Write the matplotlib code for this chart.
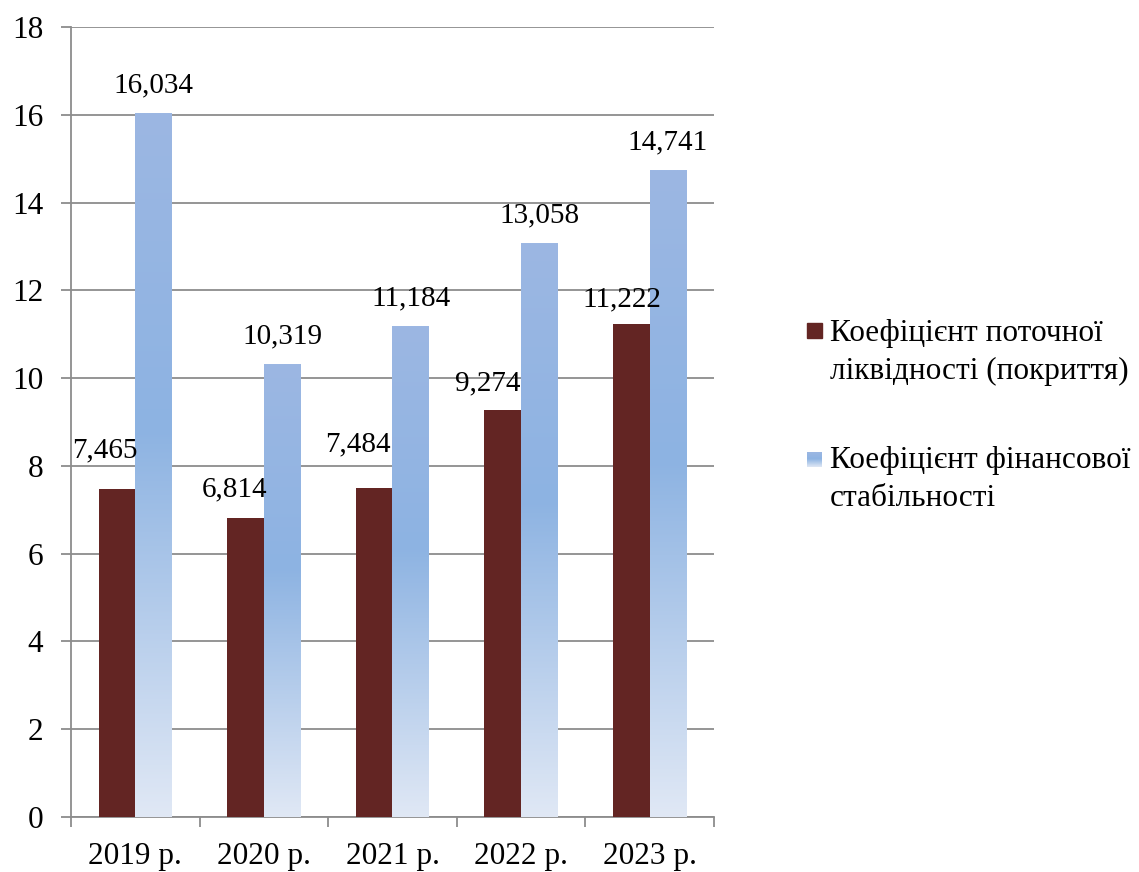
import numpy as np
import matplotlib
matplotlib.use("Agg")
import matplotlib.pyplot as plt
from matplotlib.colors import LinearSegmentedColormap
from matplotlib.patches import Rectangle

plt.rcParams['font.family'] = ['Liberation Serif', 'DejaVu Serif']

# дані
years = ['2019 р.', '2020 р.', '2021 р.', '2022 р.', '2023 р.']
liquidity = [7.465, 6.814, 7.484, 9.274, 11.222]
stability = [16.034, 10.319, 11.184, 13.058, 14.741]
series_names = ['Коефіцієнт поточної\nліквідності (покриття)',
                'Коефіцієнт фінансової\nстабільності']

# зсуви підписів (пікселі) для темних стовпців
liq_label_shift = [(-12, 39), (-11, 29), (-16, 44), (-15, 27), (-9, 25)]

FS = 22.5
FS_LBL = 21
dark = '#632523'
grid_c = '#8c8c8c'
blue_grad = LinearSegmentedColormap.from_list(
    'blue_grad', [(0.0, '#E0E8F5'), (0.55, '#8DB3E2'), (1.0, '#9CB7E3')])


def fmt(v):
    return f'{v:.3f}'.replace('.', ',')


fig = plt.figure(figsize=(11.39, 8.72), dpi=100)
ax = fig.add_axes([0.0623, 0.0631, 0.5645, 0.906])

x = np.arange(len(years))
w = 0.2857

ax.bar(x - w / 2, liquidity, width=w, color=dark, zorder=3)
grad = np.linspace(0, 1, 256).reshape(-1, 1)
for xi, v in zip(x, stability):
    ax.imshow(grad, cmap=blue_grad, origin='lower', aspect='auto',
              extent=(xi, xi + w, 0, v), zorder=3, interpolation='bilinear')

for xi, v, (dx, dy) in zip(x, liquidity, liq_label_shift):
    ax.annotate(fmt(v), (xi - w / 2, v), xytext=(dx, dy),
                textcoords='offset pixels', ha='center', va='center',
                fontsize=FS_LBL, zorder=5)
for xi, v in zip(x, stability):
    ax.annotate(fmt(v), (xi + w / 2, v), xytext=(0, 28),
                textcoords='offset pixels', ha='center', va='center',
                fontsize=FS_LBL, zorder=5)

ax.set_xlim(-0.5, len(years) - 0.5)
ax.set_ylim(0, 18)
ax.set_yticks(np.arange(0, 19, 2))
ax.set_xticks(x)
ax.set_xticklabels(years)
ax.set_xticks(np.arange(-0.5, len(years), 1), minor=True)
ax.tick_params(axis='x', which='major', length=0, pad=18, labelsize=FS)
ax.tick_params(axis='x', which='minor', length=7, width=1.3, color=grid_c)
ax.tick_params(axis='y', length=7, width=1.3, color=grid_c, pad=13, labelsize=FS)

ax.grid(axis='y', color=grid_c, linewidth=1.3, zorder=0)
ax.set_axisbelow(True)
for s in ['top', 'right']:
    ax.spines[s].set_visible(False)
for s in ['left', 'bottom']:
    ax.spines[s].set_color(grid_c)
    ax.spines[s].set_linewidth(1.3)

# легенда
W, H = fig.get_size_inches() * fig.dpi
fig.patches.append(Rectangle((807 / W, 1 - 338 / H), 15 / W, 15 / H,
                             transform=fig.transFigure, color=dark))
lax = fig.add_axes([807 / W, 1 - 467 / H, 15 / W, 15 / H])
lax.imshow(grad, cmap=blue_grad, origin='lower', aspect='auto')
lax.axis('off')
for name, ytop in zip(series_names, [333, 460]):
    fig.text(830 / W, 1 - (ytop - 14) / H, name, fontsize=FS,
             va='top', ha='left', linespacing=1.4)

fig.savefig('out.png', dpi=100)
